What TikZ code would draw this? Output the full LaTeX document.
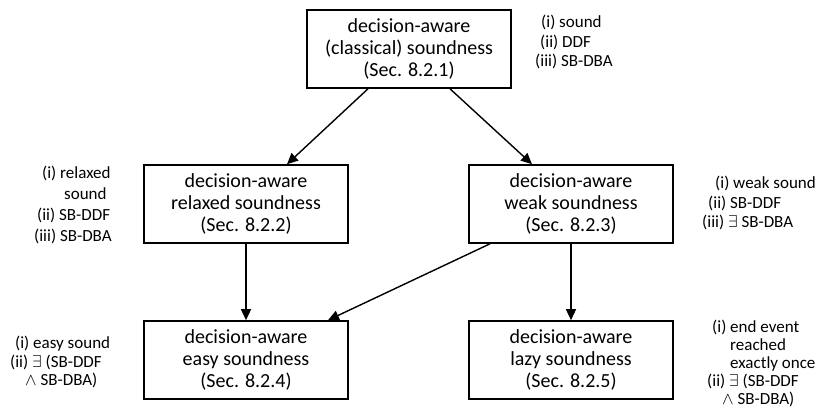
\documentclass[tikz,border=0pt]{standalone}
\usepackage{fontspec}
\setmainfont{Carlito}
\usetikzlibrary{arrows.meta,positioning}
\tikzset{
	concept/.style={draw,line width=1.6pt,minimum width=204pt,minimum height=78pt,inner sep=0pt,align=center,font=\fontsize{20}{22}\selectfont},
	props/.style={anchor=west,inner sep=0pt,align=left},
	implies/.style={line width=1.4pt,-{Triangle[length=11pt,width=10pt]}}
}

\begin{document}
\begin{tikzpicture}[x=1pt,y=-1pt]
			\useasboundingbox (0,0) rectangle (819,416);
			\node[concept] (classical) at (409,49) {decision-aware\\(classical) soundness\\(Sec. 8.2.1)};
			\node[concept] (relaxed) at (246,204) {decision-aware\\relaxed soundness\\(Sec. 8.2.2)};
			\node[concept] (weak) at (571,204) {decision-aware\\weak soundness\\(Sec. 8.2.3)};
			\node[concept] (easy) at (246,360) {decision-aware\\easy soundness\\(Sec. 8.2.4)};
			\node[concept] (lazy) at (571,360) {decision-aware\\lazy soundness\\(Sec. 8.2.5)};
			\draw[implies] ([xshift=-41pt]classical.south) -- ([xshift=41pt]relaxed.north);
			\draw[implies] ([xshift=41pt]classical.south) -- ([xshift=-39pt]weak.north);
			\draw[implies] (relaxed) -- (easy);
			\draw[implies] ([xshift=-81pt]weak.south) -- ([xshift=82pt]easy.north);
			\draw[implies] (weak) -- (lazy);
			\node[props,font=\fontsize{17}{19.5}\selectfont] (classicalprops) at (535,42) {\hspace*{6pt}(i) sound\\\hspace*{5pt}(ii) DDF\\(iii) SB-DBA};
			\node[props,font=\fontsize{17}{21}\selectfont] (relaxedprops) at (34,205) {\hspace*{8pt}(i) relaxed\\\hspace*{30pt}sound\\\hspace*{3pt}(ii) SB-DDF\\(iii) SB-DBA};
			\node[props,font=\fontsize{17}{19.5}\selectfont] (weakprops) at (702,203) {\hspace*{13pt}(i) weak sound\\\hspace*{6pt}(ii) SB-DDF\\(iii) $\exists$ SB-DBA};
			\node[props,font=\fontsize{17}{18.5}\selectfont] (easyprops) at (10,362) {\hspace*{5pt}(i) easy sound\\(ii) $\exists$ (SB-DDF\\\hspace*{15pt}$\wedge$ SB-DBA)};
			\node[props,font=\fontsize{17}{18}\selectfont] (lazyprops) at (707,363) {\hspace*{5pt}(i) end event\\\hspace*{23pt}reached\\\hspace*{23pt}exactly once\\(ii) $\exists$ (SB-DDF\\\hspace*{15pt}$\wedge$ SB-DBA)};
		\end{tikzpicture}
\end{document}
